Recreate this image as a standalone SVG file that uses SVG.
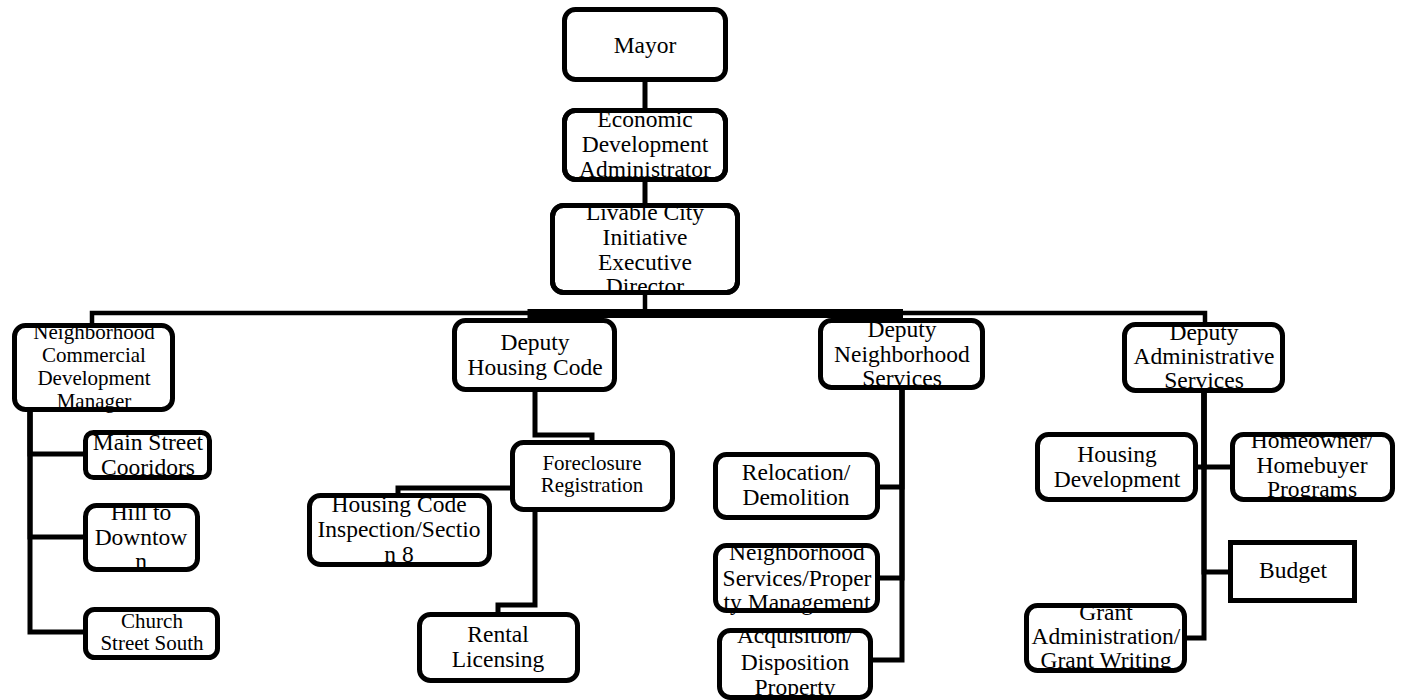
<svg xmlns="http://www.w3.org/2000/svg" width="1401" height="700" viewBox="0 0 1401 700">
<style>
.box{fill:#fff;stroke:#000;stroke-width:5}
.nf{fill:none}
.t{font-family:"Liberation Serif","Times New Roman",serif;font-size:23.5px;fill:#000;text-anchor:middle}
.s{font-size:21px}
.c{fill:none;stroke:#000;stroke-width:5}
</style>
<rect width="1401" height="700" fill="#fff"/>
<g id="connectors">
<path class="c" d="M645,82 V108"/>
<path class="c" d="M645,182 V203"/>
<path class="c" d="M645,295 V313 H92 V323" style="stroke-width:4.5"/>
<path class="c" d="M645,313 H1205 V322" style="stroke-width:4.5"/>
<path class="c" d="M645,313.5 H532 V318" style="stroke-width:9"/>
<path class="c" d="M645,313.5 H903" style="stroke-width:9"/>
<path class="c" d="M30,412 V454 H83"/>
<path class="c" d="M30,412 V537 H83"/>
<path class="c" d="M30,412 V632 H83"/>
<path class="c" d="M535,392 V435 H592 V440"/>
<path class="c" d="M510,488 H398 V493"/>
<path class="c" d="M535,512 V605 H498 V612"/>
<path class="c" d="M902,390 V487 H880"/>
<path class="c" d="M902,390 V578 H880"/>
<path class="c" d="M902,390 V660 H873"/>
<path class="c" d="M1204,393 V467 H1198"/>
<path class="c" d="M1204,393 V467 H1230"/>
<path class="c" d="M1204,393 V572 H1228"/>
<path class="c" d="M1204,393 V638 H1187"/>
</g>
<g id="mayor"><rect class="box" x="564.5" y="9.5" width="161" height="70" rx="11"/><text class="t" x="645" y="53">Mayor</text></g>
<g id="eda"><rect class="box" x="564.5" y="110.5" width="161" height="69" rx="11"/><text class="t" x="645" y="127">Economic</text><text class="t" x="645" y="152">Development</text><text class="t" x="645" y="177">Administrator</text><rect class="box nf" x="564.5" y="110.5" width="161" height="69" rx="11"/></g>
<g id="lci"><rect class="box" x="552.5" y="205.5" width="185" height="87" rx="11"/><text class="t" x="645" y="220">Livable City</text><text class="t" x="645" y="245">Initiative</text><text class="t" x="645" y="270">Executive</text><text class="t" x="645" y="294">Director</text><rect class="box nf" x="552.5" y="205.5" width="185" height="87" rx="11"/></g>
<g id="ncdm"><rect class="box" x="14.5" y="325.5" width="158" height="84" rx="11"/><text class="t s" x="94" y="339">Neighborhood</text><text class="t s" x="94" y="362">Commercial</text><text class="t s" x="94" y="385">Development</text><text class="t s" x="94" y="408">Manager</text></g>
<g id="msc"><rect class="box" x="85.5" y="432.5" width="124" height="45" rx="8"/><text class="t" x="148" y="450">Main Street</text><text class="t" x="148" y="475">Cooridors</text></g>
<g id="htd"><rect class="box" x="85.5" y="505.5" width="112" height="64" rx="11"/><text class="t" x="141" y="520">Hill to</text><text class="t" x="141" y="545">Downtow</text><text class="t" x="141" y="569">n</text></g>
<g id="css"><rect class="box" x="85.5" y="609.5" width="132" height="48" rx="9"/><text class="t s" x="152" y="628">Church</text><text class="t s" x="152" y="650">Street South</text></g>
<g id="dhc"><rect class="box" x="454.5" y="320.5" width="160" height="69" rx="11"/><text class="t" x="535" y="350">Deputy</text><text class="t" x="535" y="375">Housing Code</text></g>
<g id="fr"><rect class="box" x="512.5" y="442.5" width="160" height="67" rx="11"/><text class="t s" x="592" y="470">Foreclosure</text><text class="t s" x="592" y="492">Registration</text></g>
<g id="hci"><rect class="box" x="309.5" y="495.5" width="180" height="69" rx="11"/><text class="t" x="399" y="512">Housing Code</text><text class="t" x="399" y="537">Inspection/Sectio</text><text class="t" x="399" y="562">n 8</text></g>
<g id="rl"><rect class="box" x="419.5" y="614.5" width="158" height="66" rx="11"/><text class="t" x="498" y="642">Rental</text><text class="t" x="498" y="667">Licensing</text></g>
<g id="dns"><rect class="box" x="820.5" y="320.5" width="162" height="67" rx="11"/><text class="t" x="902" y="337">Deputy</text><text class="t" x="902" y="362">Neighborhood</text><text class="t" x="902" y="386">Services</text></g>
<g id="rd"><rect class="box" x="715.5" y="454.5" width="162" height="63" rx="11"/><text class="t" x="796" y="480">Relocation/</text><text class="t" x="796" y="505">Demolition</text></g>
<g id="nspm"><rect class="box" x="715.5" y="545.5" width="162" height="65" rx="11"/><text class="t" x="797" y="560">Neighborhood</text><text class="t" x="797" y="586">Services/Proper</text><text class="t" x="797" y="610">ty Management</text></g>
<g id="adp"><rect class="box" x="719.5" y="630.5" width="151" height="67" rx="11"/><text class="t" x="795" y="643">Acquisition/</text><text class="t" x="795" y="670">Disposition</text><text class="t" x="795" y="695">Property</text></g>
<g id="das"><rect class="box" x="1124.5" y="324.5" width="158" height="66" rx="11"/><text class="t" x="1204" y="340">Deputy</text><text class="t" x="1204" y="364">Administrative</text><text class="t" x="1204" y="388">Services</text></g>
<g id="hd"><rect class="box" x="1037.5" y="434.5" width="158" height="65" rx="11"/><text class="t" x="1117" y="462">Housing</text><text class="t" x="1117" y="487">Development</text></g>
<g id="hhp"><rect class="box" x="1232.5" y="434.5" width="160" height="65" rx="11"/><text class="t" x="1312" y="448">Homeowner/</text><text class="t" x="1312" y="473">Homebuyer</text><text class="t" x="1312" y="497">Programs</text></g>
<g id="budget"><rect class="box" x="1230.5" y="542.5" width="124" height="58"/><text class="t" x="1293" y="578">Budget</text></g>
<g id="gagw"><rect class="box" x="1026.5" y="605.5" width="158" height="65" rx="11"/><text class="t" x="1106" y="620">Grant</text><text class="t" x="1106" y="644">Administration/</text><text class="t" x="1106" y="668">Grant Writing</text></g>
</svg>
